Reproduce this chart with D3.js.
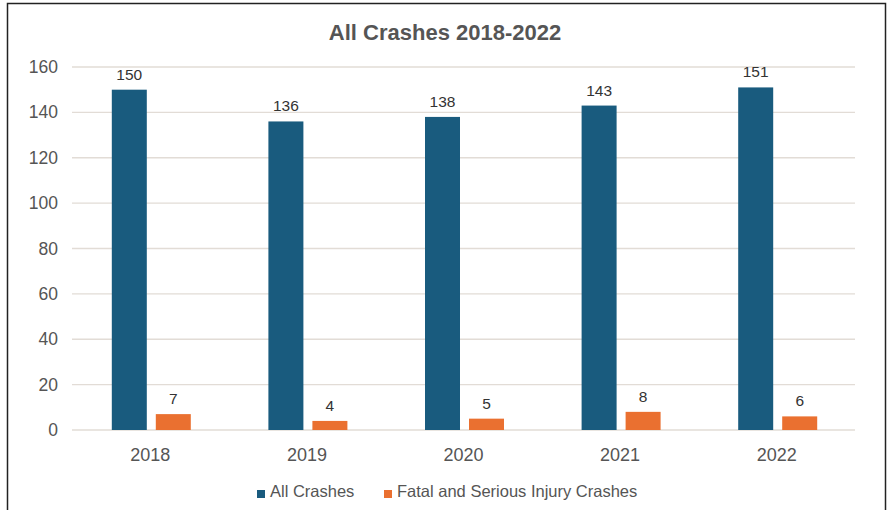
<!DOCTYPE html>
<html>
<head>
<meta charset="utf-8">
<script src="https://cdn.jsdelivr.net/npm/d3@7"></script>
<style>
  body { margin: 0; background: #fff; }
  text { font-family: "Liberation Sans", Arial, sans-serif; }
</style>
</head>
<body>
<div id="chart"></div>
<script>
const years = ['2018', '2019', '2020', '2021', '2022'];
const allCrashes = [150, 136, 138, 143, 151];
const fatalSerious = [7, 4, 5, 8, 6];
const seriesNames = ['All Crashes', 'Fatal and Serious Injury Crashes'];
const seriesColors = ['#195b7e', '#ea7030'];
const yTicks = [0, 20, 40, 60, 80, 100, 120, 140, 160];

const width = 890;
const height = 510;
const margin = { top: 67, right: 35, bottom: 80, left: 72 };

const svg = d3.select('#chart').append('svg')
  .attr('width', width)
  .attr('height', height);

svg.append('rect')
  .attr('x', 7.5)
  .attr('y', 3.5)
  .attr('width', 878)
  .attr('height', 540)
  .attr('fill', 'white')
  .attr('stroke', '#222')
  .attr('stroke-width', 1.5);

const x = d3.scaleBand()
  .domain(years)
  .range([margin.left, width - margin.right]);

const y = d3.scaleLinear()
  .domain([0, 160])
  .range([height - margin.bottom, margin.top]);

// gridlines
svg.append('g')
  .selectAll('line')
  .data(yTicks)
  .join('line')
  .attr('x1', margin.left)
  .attr('x2', width - margin.right)
  .attr('y1', d => y(d))
  .attr('y2', d => y(d))
  .attr('stroke', '#e2dcd6')
  .attr('stroke-width', 1.3);

// y axis labels
const yAxis = svg.append('g')
  .attr('transform', `translate(${margin.left - 14},0)`)
  .call(d3.axisLeft(y).tickValues(yTicks).tickSize(0).tickPadding(0));
yAxis.select('.domain').remove();
yAxis.selectAll('text')
  .attr('font-size', 17.5)
  .attr('fill', '#555')
  .attr('font-family', '"Liberation Sans", Arial, sans-serif');

// x axis labels
const xAxis = svg.append('g')
  .attr('transform', `translate(0,${height - margin.bottom + 15})`)
  .call(d3.axisBottom(x).tickSize(0).tickPadding(0));
xAxis.select('.domain').remove();
xAxis.selectAll('text')
  .attr('font-size', 18)
  .attr('fill', '#555')
  .attr('dy', '0.9em')
  .attr('font-family', '"Liberation Sans", Arial, sans-serif');

const barW = 35;
const gap = 9;
const series = [allCrashes, fatalSerious];

series.forEach((vals, si) => {
  const g = svg.append('g');
  const bx = (d, i) => x(years[i]) + x.bandwidth() / 2 - barW - gap / 2 + si * (barW + gap) + 1;
  g.selectAll('rect')
    .data(vals)
    .join('rect')
    .attr('x', bx)
    .attr('y', d => y(d))
    .attr('width', barW)
    .attr('height', d => y(0) - y(d))
    .attr('fill', seriesColors[si]);
  g.selectAll('text')
    .data(vals)
    .join('text')
    .attr('x', (d, i) => bx(d, i) + barW / 2)
    .attr('y', d => y(d) - 10)
    .attr('text-anchor', 'middle')
    .attr('font-size', 15.5)
    .attr('fill', '#333')
    .text(d => d);
});

// title
svg.append('text')
  .attr('x', 445)
  .attr('y', 40)
  .attr('text-anchor', 'middle')
  .attr('font-size', 22)
  .attr('font-weight', 'bold')
  .attr('fill', '#555')
  .text('All Crashes 2018-2022');

// legend
const legendItems = [
  { name: seriesNames[0], color: seriesColors[0], x: 257 },
  { name: seriesNames[1], color: seriesColors[1], x: 384 }
];
const legend = svg.append('g');
legendItems.forEach(item => {
  legend.append('rect')
    .attr('x', item.x)
    .attr('y', 490)
    .attr('width', 8)
    .attr('height', 8)
    .attr('fill', item.color);
  legend.append('text')
    .attr('x', item.x + 13)
    .attr('y', 497)
    .attr('font-size', 16.5)
    .attr('fill', '#555')
    .text(item.name);
});
</script>
</body>
</html>
